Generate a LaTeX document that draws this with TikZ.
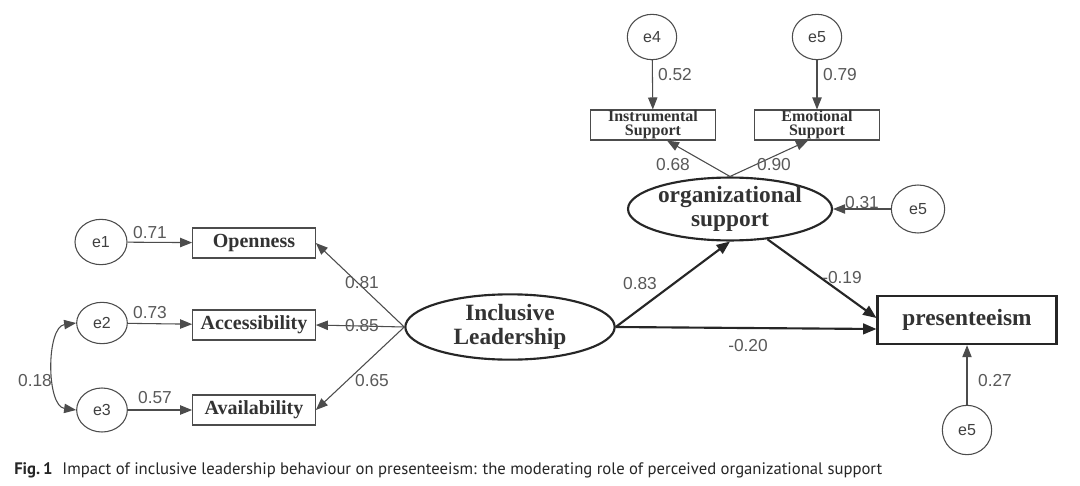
\documentclass[tikz,border=0pt]{standalone}
\usepackage{fontspec}
\setmainfont{Liberation Serif}
\newfontfamily\numfont{Liberation Sans}
\newfontfamily\capfont{PT Sans}
\usetikzlibrary{arrows.meta,shapes.geometric,calc}
\begin{document}
\begin{tikzpicture}[x=0.75pt,y=-0.75pt,
  err/.style={draw=black!70, line width=0.8pt, ellipse, minimum width=37pt, minimum height=34pt, inner sep=0pt,
    font=\numfont\fontsize{12}{13}\selectfont, text=black!75},
  obs/.style={draw=black!70, line width=0.8pt, rectangle, minimum width=92pt, minimum height=22.5pt, inner sep=0pt,
    font=\bfseries\fontsize{15}{16}\selectfont, text=black!80},
  obssm/.style={obs, minimum width=94pt, font=\bfseries\fontsize{12}{10.5}\selectfont, align=center},
  lat/.style={draw=black!85, line width=1.6pt, ellipse, inner sep=0pt, align=center,
    font=\bfseries\fontsize{17.5}{17.5}\selectfont, text=black!80},
  num/.style={font=\numfont\fontsize{13}{14}\selectfont, text=black!65, inner sep=1pt},
  thin/.style={draw=black!70, line width=0.8pt, -{Triangle[length=9pt,width=7pt]}},
  thick/.style={draw=black!85, line width=1.6pt, -{Triangle[length=10pt,width=8pt]}}]
\path[use as bounding box, fill=white] (0,0) rectangle (1080,485);

% nodes
\node[err] (e4) at (652,37) {e4};
\node[err] (e5t) at (817,37) {e5};
\node[obssm] (instr) at (653,125) {Instrumental\\Support};
\node[obssm] (emot) at (817,125) {Emotional\\Support};
\node[lat, minimum width=153pt, minimum height=45pt] (os) at (730,209) {organizational\\support};
\node[err, minimum width=40pt, minimum height=36pt] (e5r) at (918,209) {e5};
\node[obs] (open) at (254,243) {Openness};
\node[obs] (acc) at (254,325) {Accessibility};
\node[obs] (avail) at (254,410) {Availability};
\node[err, minimum width=39pt] (e1) at (101,242) {e1};
\node[err, minimum width=38pt, minimum height=31pt] (e2) at (102,323) {e2};
\node[err, minimum width=38pt, minimum height=33pt] (e3) at (102,410) {e3};
\node[lat, minimum width=157pt, minimum height=49pt] (il) at (510,327) {Inclusive\\Leadership};
\node[draw=black!85, line width=1.8pt, rectangle, minimum width=134pt, minimum height=36pt,
  font=\bfseries\fontsize{17.5}{18}\selectfont, text=black!80] (pres) at (967,320) {presenteeism};
\node[err, minimum width=37pt, minimum height=37pt] (e5b) at (967,430) {e5};

% connectors
\draw[thin] (e4) -- (instr);
\draw[thin] (e5t) -- (emot);
\draw[thin] (os.north) -- ($(instr.south)+(14,0)$);
\draw[thin] (os.north) -- ($(emot.south)+(-9,0)$);
\draw[thin] (e5r) -- (os.east);
\draw[thin] (e1) -- (open);
\draw[thin] (e2) -- (acc);
\draw[thin] (e3) -- (avail);
\draw[thin] (il.west) -- (open.east);
\draw[thin] (il.west) -- (acc.east);
\draw[thin] (il.west) -- (avail.east);
\draw[thin, {Triangle[length=9pt,width=7pt]}-{Triangle[length=9pt,width=7pt]}]
  (e2.west) .. controls +(-30,4) and +(-30,-4) .. (e3.west);
\draw[thick] (il.east) -- (os.south);
\draw[thick] (os.-39) -- ($(pres.west)+(0,-2)$);
\draw[thick] (il.east) -- ($(pres.west)+(0,9)$);
\draw[thin] (e5b) -- (pres);

% labels
\node[num] (l1) at (675,75) {0.52};
\node[num] (l2) at (840,75) {0.79};
\node[num] (l3) at (673,165) {0.68};
\node[num] (l4) at (774,165) {0.90};
\node[num] (l5) at (862,203) {0.31};
\node[num] (l6) at (150,233) {0.71};
\node[num] (l7) at (150,313) {0.73};
\node[num] (l8) at (155,398) {0.57};
\node[num] (l9) at (35,381) {0.18};
\node[num] (l10) at (362,283) {0.81};
\node[num] (l11) at (362,326) {0.85};
\node[num] (l12) at (372,381) {0.65};
\node[num] (l13) at (640,284) {0.83};
\node[num] (l14) at (842,278) {-0.19};
\node[num] (l15) at (748,346) {-0.20};
\node[num] (l16) at (995,381) {0.27};

% caption
\node[anchor=west, inner sep=0pt, font=\capfont\fontsize{12.5}{13}\selectfont, text=black!85] (cap) at (14,470)
  {\textbf{Fig.\,1}\hspace{0.6em}Impact of inclusive leadership behaviour on presenteeism: the moderating role of perceived organizational support};
\end{tikzpicture}
\end{document}
